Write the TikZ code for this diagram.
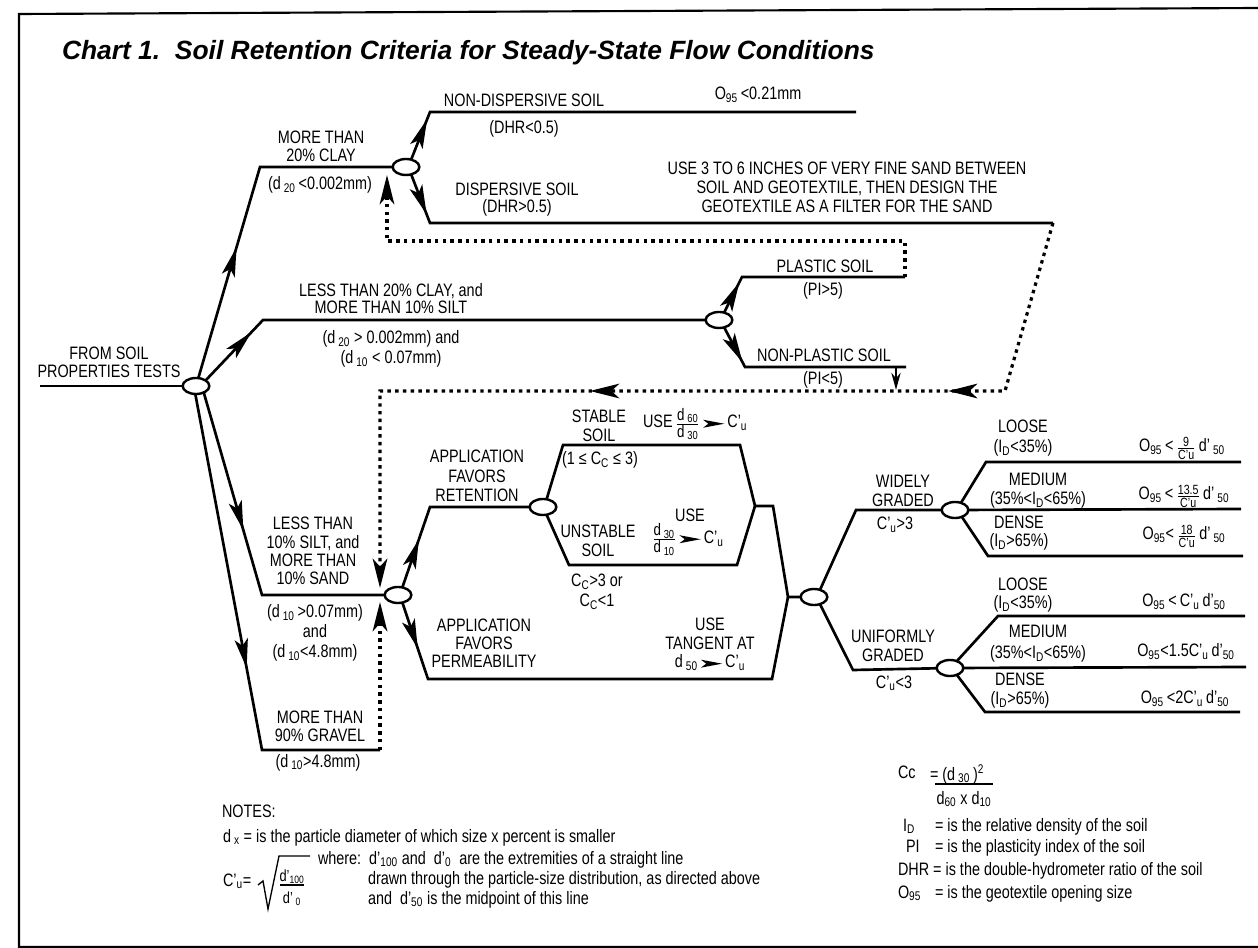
\documentclass[tikz,border=0pt]{standalone}
\usepackage{amsmath}
\usepackage{fontspec}
\setmainfont{Liberation Sans}[FakeStretch=0.8]
\newfontfamily\titlefont{Liberation Sans}
\usetikzlibrary{shapes.geometric,arrows.meta,decorations.markings}
\newcommand\lo[1]{\textsubscript{#1}}
\newcommand\fr[2]{\ensuremath{\genfrac{}{}{0.6pt}{}{\mbox{#1}}{\mbox{#2}}}}
\newcommand\sfr[2]{{\fontsize{10}{10}\selectfont\fr{#1}{#2}}}
\newcommand\harr{\tikz[baseline=-3.2pt]\fill (0pt,3pt)--(16pt,0pt)--(0pt,-3pt)--(4pt,0pt)--cycle;}
\tikzset{
  tipS/.tip={Stealth[length=22pt,width=10pt,inset=5pt]},
  tipD/.tip={Stealth[length=22pt,width=11pt,inset=6pt]},
}
\begin{document}
\begin{tikzpicture}[x=0.75pt,y=-0.75pt,
  every node/.style={inner sep=0pt, outer sep=0pt},
  lbl/.style={font=\fontsize{13.5}{13.7}\selectfont, align=center},
  hub/.style={ellipse, draw, fill=white, line width=1.8pt, minimum width=20pt, minimum height=12pt},
  ln/.style={line width=2pt, line join=miter},
  arr/.style={postaction={decorate, decoration={markings, mark=at position #1 with {\arrow{tipS}}}}},
  dots/.style={line width=2.4pt, dash pattern=on 2.6pt off 3.2pt},
]
\useasboundingbox (0,0) rectangle (1258,948);
% frame
\draw[line width=1.6pt] (1258,8) -- (19,14) -- (19,947) -- (1258,947);

% title
\node[anchor=base west, font=\titlefont\bfseries\itshape\fontsize{19.8}{20}\selectfont] (title) at (62,60)
  {Chart 1.\ \ Soil Retention Criteria for Steady-State Flow Conditions};

% coordinates
\coordinate (in) at (40,386);
\coordinate (a1) at (260,167);
\coordinate (a2) at (263,320);
\coordinate (a3) at (262,595);
\coordinate (a4) at (262,750);
\coordinate (g1) at (380,750);
\coordinate (b1) at (430,112);
\coordinate (b1e) at (856,112);
\coordinate (b2) at (430,223);
\coordinate (b2e) at (1053,223);
\coordinate (c1) at (742,277);
\coordinate (c1e) at (905,277);
\coordinate (c2) at (745,367);
\coordinate (c2e) at (906,367);
\coordinate (r1) at (430,507);
\coordinate (s1) at (563,445);
\coordinate (s2) at (740,445);
\coordinate (s3) at (755,506);
\coordinate (s4) at (773,506);
\coordinate (u1) at (569,565);
\coordinate (u2) at (737,565);
\coordinate (p1) at (428,679);
\coordinate (p2) at (772,679);
\coordinate (m) at (788,597);
\coordinate (w1) at (856,510);
\coordinate (v1) at (853,670);
\coordinate (wl) at (986,462);
\coordinate (wle) at (1241,462);
\coordinate (wme) at (1241,509);
\coordinate (wd) at (988,556);
\coordinate (wde) at (1243,556);
\coordinate (ul) at (998,616);
\coordinate (ule) at (1245,616);
\coordinate (ume) at (1246,667);
\coordinate (ud) at (985,712);
\coordinate (ude) at (1240,712);
\coordinate (d1a) at (905,241);
\coordinate (d1b) at (387,241);
\coordinate (t1) at (387,175);
\coordinate (d2a) at (1005,391);
\coordinate (d2b) at (380,391);
\coordinate (t2) at (380,588);
\coordinate (t3) at (380,602);
\coordinate (np) at (896,367);
\coordinate (npd) at (896,390);

% dotted return paths
\draw[dots, -{tipD}] (c1e) -- (d1a) -- (d1b) -- (t1);
\draw[dots, -{tipD}] (b2e) -- (d2a) -- (d2b) -- (t2);
\path[line width=2pt, postaction={decorate, decoration={markings,
   mark=at position 0.091 with {\arrow{tipD}},
   mark=at position 0.664 with {\arrow{tipD}}}}] (d2a) -- (d2b);
\draw[dots, -{tipD}] (g1) -- (t3);
\draw[line width=1.1pt, -{Stealth[length=13pt,width=7pt]}] (np) -- (npd);

% hubs
\node[hub] (h0) at (196,386) {};
\node[hub] (h1) at (406,167) {};
\node[hub] (h2) at (719,320) {};
\node[hub] (h3) at (398,595) {};
\node[hub] (h4) at (543,507) {};
\node[hub] (h5) at (814,597) {};
\node[hub] (h6) at (955,510) {};
\node[hub] (h7) at (950,668) {};

% solid connectors
\draw[ln] (in) -- (h0);
\draw[ln] (h0) -- (a1) -- (h1);
\path[ln, arr=0.62] (h0) -- (a1);
\draw[ln] (h0.30) -- (a2) -- (h2);
\path[ln, arr=0.8] (h0.30) -- (a2);
\draw[ln] (h0.-40) -- (a3) -- (h3);
\path[ln, arr=0.68] (h0.-40) -- (a3);
\draw[ln] (h0.-95) -- (a4) -- (g1);
\path[ln, arr=0.77] (h0.-95) -- (a4);

\draw[ln] (h1.55) -- (b1) -- (b1e);
\path[ln, arr=0.85] (h1.55) -- (b1);
\draw[ln] (h1.-55) -- (b2) -- (b2e);
\path[ln, arr=0.82] (h1.-55) -- (b2);

\draw[ln] (h2.55) -- (c1) -- (c1e);
\path[ln, arr=0.85] (h2.55) -- (c1);
\draw[ln] (h2.-55) -- (c2) -- (c2e);
\path[ln, arr=0.88] (h2.-55) -- (c2);

\draw[ln] (h3.60) -- (r1) -- (h4);
\path[ln, arr=0.6] (h3.60) -- (r1);
\draw[ln] (h3.-60) -- (p1) -- (p2) -- (m);
\path[ln, arr=0.6] (h3.-60) -- (p1);

\draw[ln] (h4.65) -- (s1) -- (s2) -- (s3) -- (s4) -- (m) -- (h5);
\draw[ln] (h4.-65) -- (u1) -- (u2) -- (s3);

\draw[ln] (h5.50) -- (w1) -- (h6);
\draw[ln] (h5.-50) -- (v1) -- (h7);

\draw[ln] (h6.50) -- (wl) -- (wle);
\draw[ln] (h6) -- (wme);
\draw[ln] (h6.-45) -- (wd) -- (wde);
\draw[ln] (h7.45) -- (ul) -- (ule);
\draw[ln] (h7) -- (ume);
\draw[ln] (h7.-45) -- (ud) -- (ude);

% labels
\node[lbl] (l1) at (321,146.5) {MORE THAN\\20\% CLAY};
\node[lbl, anchor=base] (l2) at (320,190) {(d\,\lo{20}\,<0.002mm)};
\node[lbl, anchor=base] (l3) at (524,107) {NON-DISPERSIVE SOIL};
\node[lbl, anchor=base] (l4) at (758,100) {O\lo{95}\,<0.21mm};
\node[lbl, anchor=base] (l5) at (524,134) {(DHR<0.5)};
\node[lbl, anchor=base] (l6) at (517,196) {DISPERSIVE SOIL};
\node[lbl, anchor=base] (l7) at (517,213) {(DHR>0.5)};
\node[lbl, font=\fontsize{13.5}{14.25}\selectfont] (l8) at (847,187.5)
  {USE 3 TO 6 INCHES OF VERY FINE SAND BETWEEN\\SOIL AND GEOTEXTILE, THEN DESIGN THE\\GEOTEXTILE AS A FILTER FOR THE SAND};
\node[lbl] (l9) at (109,362.5) {FROM SOIL\\PROPERTIES TESTS};
\node[lbl, font=\fontsize{13.5}{12.8}\selectfont] (l10) at (391,299) {LESS THAN 20\% CLAY, and\\MORE THAN 10\% SILT};
\node[lbl, font=\fontsize{13.5}{15.5}\selectfont] (l11) at (391,349) {(d\,\lo{20} > 0.002mm) and\\(d\,\lo{10} < 0.07mm)};
\node[lbl, anchor=base] (l12) at (825,273) {PLASTIC SOIL};
\node[lbl, anchor=base] (l13) at (823,296) {(PI>5)};
\node[lbl, anchor=base] (l14) at (824,362) {NON-PLASTIC SOIL};
\node[lbl, anchor=base] (l15) at (823,385) {(PI<5)};
\node[lbl] (l16) at (313,551) {LESS THAN\\10\% SILT, and\\MORE THAN\\10\% SAND};
\node[lbl, font=\fontsize{13.5}{15}\selectfont] (l17) at (315,632.5) {(d\,\lo{10}\,>0.07mm)\\and\\(d\,\lo{10}<4.8mm)};
\node[lbl] (l18) at (320,726.5) {MORE THAN\\90\% GRAVEL};
\node[lbl, anchor=base] (l19) at (318,767) {(d\,\lo{10}>4.8mm)};
\node[lbl, font=\fontsize{13.5}{14.25}\selectfont] (l20) at (599,426) {STABLE\\SOIL};
\node[lbl, anchor=base west] (l21) at (643,428) {USE\,{\fontsize{12.5}{12.5}\selectfont\fr{d\,\lo{60}}{d\,\lo{30}}}\,\harr\,C'\lo{u}};
\node[lbl, anchor=base] (l22) at (600,465) {(1 ≤ C\lo{C} ≤ 3)};
\node[lbl, font=\fontsize{13.5}{14.6}\selectfont] (l23) at (477,476) {APPLICATION\\FAVORS\\RETENTION};
\node[lbl, font=\fontsize{13.5}{14.25}\selectfont] (l24) at (598,541) {UNSTABLE\\SOIL};
\node[lbl, anchor=base] (l25) at (690,522) {USE};
\node[lbl, anchor=base west] (l26) at (652,543.5) {{\fontsize{12.5}{12.5}\selectfont\fr{d\,\lo{30}}{d\,\lo{10}}}\,\harr\,C'\lo{u}};
\node[lbl, font=\fontsize{13.5}{15}\selectfont] (l27) at (597,592) {C\lo{C}>3 or\\C\lo{C}<1};
\node[lbl, font=\fontsize{13.5}{13.5}\selectfont] (l28) at (484,643.5) {APPLICATION\\FAVORS\\PERMEABILITY};
\node[lbl, font=\fontsize{13.5}{14}\selectfont] (l29) at (710,644.5) {USE\\TANGENT AT\\d\,\lo{50}\,\harr\,C'\lo{u}};
\node[lbl, font=\fontsize{13.5}{15}\selectfont] (l30) at (1023,438) {LOOSE\\(I\lo{D}<35\%)};
\node[lbl, anchor=base] (l31) at (1182,452) {O\lo{95}\,<\,\sfr{9}{C'u}\,d'\,\lo{50}};
\node[lbl, font=\fontsize{13.5}{14.25}\selectfont] (l32) at (903,491) {WIDELY\\GRADED};
\node[lbl, anchor=base] (l33) at (895,530) {C'\lo{u}>3};
\node[lbl, font=\fontsize{13.5}{14.25}\selectfont] (l34) at (1038,490.5) {MEDIUM\\(35\%<I\lo{D}<65\%)};
\node[lbl, anchor=base] (l35) at (1184,500) {O\lo{95}\,<\,\sfr{13.5}{C'u}\,d'\,\lo{50}};
\node[lbl, font=\fontsize{13.5}{14}\selectfont] (l36) at (1019,533) {DENSE\\(I\lo{D}>65\%)};
\node[lbl, anchor=base] (l37) at (1184,540) {O\lo{95}<\,\sfr{18}{C'u}\,d'\,\lo{50}};
\node[lbl, font=\fontsize{13.5}{14}\selectfont] (l38) at (1023,595) {LOOSE\\(I\lo{D}<35\%)};
\node[lbl, anchor=base] (l39) at (1184,607) {O\lo{95}\,<\,C'\lo{u}\,d'\lo{50}};
\node[lbl, font=\fontsize{13.5}{15.5}\selectfont] (l40) at (1038,643.5) {MEDIUM\\(35\%<I\lo{D}<65\%)};
\node[lbl, anchor=base] (l41) at (1186,657) {O\lo{95}<1.5C'\lo{u}\,d'\lo{50}};
\node[lbl, font=\fontsize{13.5}{14.25}\selectfont] (l42) at (893,646) {UNIFORMLY\\GRADED};
\node[lbl, anchor=base] (l43) at (894,688) {C'\lo{u}<3};
\node[lbl, font=\fontsize{13.5}{14.25}\selectfont] (l44) at (1020,690.5) {DENSE\\(I\lo{D}>65\%)};
\node[lbl, anchor=base] (l45) at (1185,704) {O\lo{95}\,<2C'\lo{u}\,d'\lo{50}};

% notes
\node[lbl, anchor=base west] (n1) at (222,817) {NOTES:};
\node[lbl, anchor=base west] (n2) at (223,842) {d\,\lo{x} = is the particle diameter of which size x percent is smaller};
\node[lbl, anchor=base west] (n3) at (223,886) {C'\lo{u}=};
\node[lbl, anchor=base, font=\fontsize{12}{12}\selectfont] (n4) at (292,881) {d'\lo{100}};
\node[lbl, anchor=base, font=\fontsize{12}{12}\selectfont] (n5) at (292,903) {d'\,\lo{0}};
\draw[line width=0.8pt] (280,885) -- (304,885);
\draw[line width=1pt] (258,885) -- (263,881) -- (268,909) -- (279,856) -- (310,856);
\node[lbl, anchor=base west] (n6) at (318,864) {where:\ \ d'\lo{100} and\ \ d'\lo{0}\ \ are the extremities of a straight line};
\node[lbl, anchor=base west] (n7) at (368,884) {drawn through the particle-size distribution, as directed above};
\node[lbl, anchor=base west] (n8) at (368,904) {and\ \ d'\lo{50} is the midpoint of this line};

\node[lbl, anchor=base west] (n9) at (898,778) {Cc};
\node[lbl, anchor=base west] (n10) at (930,780) {= (d\,\lo{30}\,)\textsuperscript{2}};
\node[lbl, anchor=base] (n11) at (964,804) {d\lo{60} x d\lo{10}};
\draw[line width=1pt] (935,784) -- (993,784);
\node[lbl, anchor=base west] (n12) at (903,831) {I\lo{D}};
\node[lbl, anchor=base west] (n13) at (935,831) {= is the relative density of the soil};
\node[lbl, anchor=base west] (n14) at (906,852) {PI};
\node[lbl, anchor=base west] (n15) at (935,852) {= is the plasticity index of the soil};
\node[lbl, anchor=base west] (n16) at (898,875) {DHR = is the double-hydrometer ratio of the soil};
\node[lbl, anchor=base west] (n17) at (898,898) {O\lo{95}};
\node[lbl, anchor=base west] (n18) at (935,898) {= is the geotextile opening size};
\end{tikzpicture}
\end{document}
